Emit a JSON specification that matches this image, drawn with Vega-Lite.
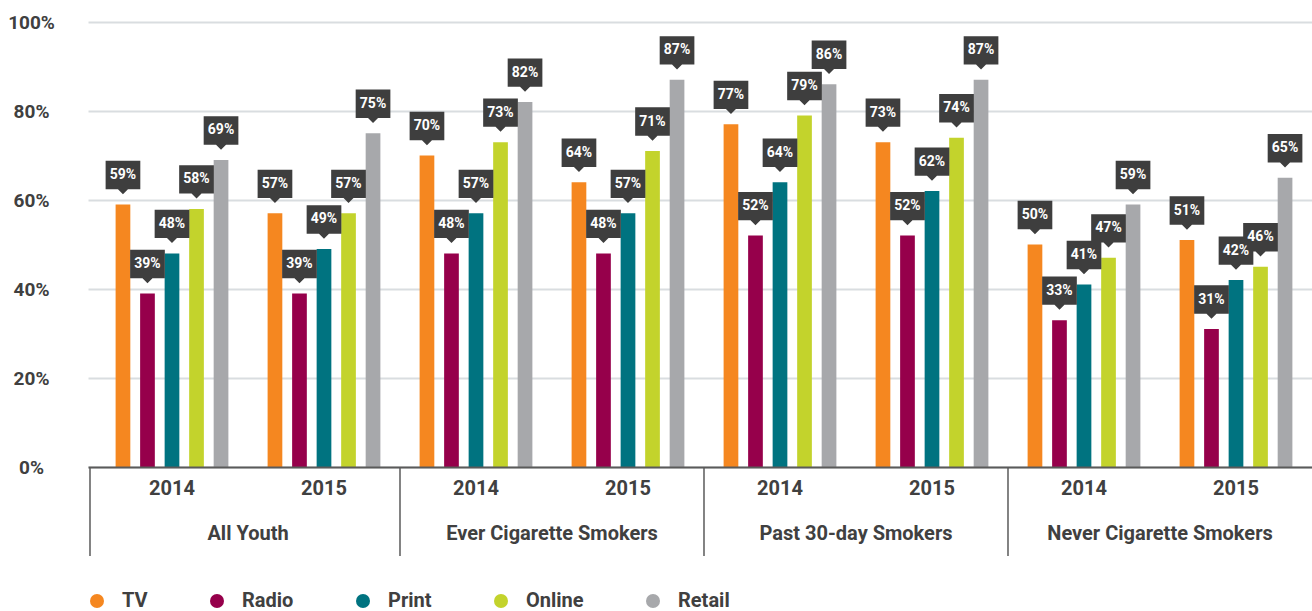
{
  "$schema": "https://vega.github.io/schema/vega-lite/v6.json",
  "autosize": "none",
  "width": 1224,
  "height": 445,
  "padding": {"left": 88, "top": 22, "right": 0, "bottom": 144},
  "background": "white",
  "config": {"view": {"stroke": null}, "font": "Roboto"},
  "datasets": {
    "bars": [
      {"group": "All Youth", "slot": "All Youth 2014", "media": "TV", "value": 59, "label": "59%"},
      {"group": "All Youth", "slot": "All Youth 2014", "media": "Radio", "value": 39, "label": "39%"},
      {"group": "All Youth", "slot": "All Youth 2014", "media": "Print", "value": 48, "label": "48%"},
      {"group": "All Youth", "slot": "All Youth 2014", "media": "Online", "value": 58, "label": "58%"},
      {"group": "All Youth", "slot": "All Youth 2014", "media": "Retail", "value": 69, "label": "69%"},
      {"group": "All Youth", "slot": "All Youth 2015", "media": "TV", "value": 57, "label": "57%"},
      {"group": "All Youth", "slot": "All Youth 2015", "media": "Radio", "value": 39, "label": "39%"},
      {"group": "All Youth", "slot": "All Youth 2015", "media": "Print", "value": 49, "label": "49%"},
      {"group": "All Youth", "slot": "All Youth 2015", "media": "Online", "value": 57, "label": "57%"},
      {"group": "All Youth", "slot": "All Youth 2015", "media": "Retail", "value": 75, "label": "75%"},
      {"group": "Ever Cigarette Smokers", "slot": "Ever Cigarette Smokers 2014", "media": "TV", "value": 70, "label": "70%"},
      {"group": "Ever Cigarette Smokers", "slot": "Ever Cigarette Smokers 2014", "media": "Radio", "value": 48, "label": "48%"},
      {"group": "Ever Cigarette Smokers", "slot": "Ever Cigarette Smokers 2014", "media": "Print", "value": 57, "label": "57%"},
      {"group": "Ever Cigarette Smokers", "slot": "Ever Cigarette Smokers 2014", "media": "Online", "value": 73, "label": "73%"},
      {"group": "Ever Cigarette Smokers", "slot": "Ever Cigarette Smokers 2014", "media": "Retail", "value": 82, "label": "82%"},
      {"group": "Ever Cigarette Smokers", "slot": "Ever Cigarette Smokers 2015", "media": "TV", "value": 64, "label": "64%"},
      {"group": "Ever Cigarette Smokers", "slot": "Ever Cigarette Smokers 2015", "media": "Radio", "value": 48, "label": "48%"},
      {"group": "Ever Cigarette Smokers", "slot": "Ever Cigarette Smokers 2015", "media": "Print", "value": 57, "label": "57%"},
      {"group": "Ever Cigarette Smokers", "slot": "Ever Cigarette Smokers 2015", "media": "Online", "value": 71, "label": "71%"},
      {"group": "Ever Cigarette Smokers", "slot": "Ever Cigarette Smokers 2015", "media": "Retail", "value": 87, "label": "87%"},
      {"group": "Past 30-day Smokers", "slot": "Past 30-day Smokers 2014", "media": "TV", "value": 77, "label": "77%"},
      {"group": "Past 30-day Smokers", "slot": "Past 30-day Smokers 2014", "media": "Radio", "value": 52, "label": "52%"},
      {"group": "Past 30-day Smokers", "slot": "Past 30-day Smokers 2014", "media": "Print", "value": 64, "label": "64%"},
      {"group": "Past 30-day Smokers", "slot": "Past 30-day Smokers 2014", "media": "Online", "value": 79, "label": "79%"},
      {"group": "Past 30-day Smokers", "slot": "Past 30-day Smokers 2014", "media": "Retail", "value": 86, "label": "86%"},
      {"group": "Past 30-day Smokers", "slot": "Past 30-day Smokers 2015", "media": "TV", "value": 73, "label": "73%"},
      {"group": "Past 30-day Smokers", "slot": "Past 30-day Smokers 2015", "media": "Radio", "value": 52, "label": "52%"},
      {"group": "Past 30-day Smokers", "slot": "Past 30-day Smokers 2015", "media": "Print", "value": 62, "label": "62%"},
      {"group": "Past 30-day Smokers", "slot": "Past 30-day Smokers 2015", "media": "Online", "value": 74, "label": "74%"},
      {"group": "Past 30-day Smokers", "slot": "Past 30-day Smokers 2015", "media": "Retail", "value": 87, "label": "87%"},
      {"group": "Never Cigarette  Smokers", "slot": "Never Cigarette  Smokers 2014", "media": "TV", "value": 50, "label": "50%"},
      {"group": "Never Cigarette  Smokers", "slot": "Never Cigarette  Smokers 2014", "media": "Radio", "value": 33, "label": "33%"},
      {"group": "Never Cigarette  Smokers", "slot": "Never Cigarette  Smokers 2014", "media": "Print", "value": 41, "label": "41%"},
      {"group": "Never Cigarette  Smokers", "slot": "Never Cigarette  Smokers 2014", "media": "Online", "value": 47, "label": "47%"},
      {"group": "Never Cigarette  Smokers", "slot": "Never Cigarette  Smokers 2014", "media": "Retail", "value": 59, "label": "59%"},
      {"group": "Never Cigarette  Smokers", "slot": "Never Cigarette  Smokers 2015", "media": "TV", "value": 51, "label": "51%"},
      {"group": "Never Cigarette  Smokers", "slot": "Never Cigarette  Smokers 2015", "media": "Radio", "value": 31, "label": "31%"},
      {"group": "Never Cigarette  Smokers", "slot": "Never Cigarette  Smokers 2015", "media": "Print", "value": 42, "label": "42%"},
      {"group": "Never Cigarette  Smokers", "slot": "Never Cigarette  Smokers 2015", "media": "Online", "value": 45, "label": "46%"},
      {"group": "Never Cigarette  Smokers", "slot": "Never Cigarette  Smokers 2015", "media": "Retail", "value": 65, "label": "65%"}
    ],
    "slots": [
      {"slot": "All Youth 2014", "year": "2014"},
      {"slot": "All Youth 2015", "year": "2015"},
      {"slot": "Ever Cigarette Smokers 2014", "year": "2014"},
      {"slot": "Ever Cigarette Smokers 2015", "year": "2015"},
      {"slot": "Past 30-day Smokers 2014", "year": "2014"},
      {"slot": "Past 30-day Smokers 2015", "year": "2015"},
      {"slot": "Never Cigarette  Smokers 2014", "year": "2014"},
      {"slot": "Never Cigarette  Smokers 2015", "year": "2015"}
    ],
    "groups": [
      {"group": "All Youth", "first": "All Youth 2014", "lead": true},
      {"group": "Ever Cigarette Smokers", "first": "Ever Cigarette Smokers 2014", "lead": false},
      {"group": "Past 30-day Smokers", "first": "Past 30-day Smokers 2014", "lead": false},
      {"group": "Never Cigarette  Smokers", "first": "Never Cigarette  Smokers 2014", "lead": false}
    ]
  },
  "layer": [
    {
      "data": {"name": "bars"},
      "mark": {"type": "bar"},
      "encoding": {
        "x": {
          "field": "slot", "type": "nominal",
          "scale": {
            "domain": ["All Youth 2014", "All Youth 2015", "Ever Cigarette Smokers 2014", "Ever Cigarette Smokers 2015", "Past 30-day Smokers 2014", "Past 30-day Smokers 2015", "Never Cigarette  Smokers 2014", "Never Cigarette  Smokers 2015"],
            "paddingInner": 0, "paddingOuter": 0.0263, "align": 1
          },
          "axis": {"labels": false, "ticks": false, "domain": true, "domainColor": "#5a5a5a", "domainWidth": 2, "grid": false, "title": null, "zindex": 1}
        },
        "xOffset": {
          "field": "media", "type": "nominal",
          "scale": {"domain": ["TV", "Radio", "Print", "Online", "Retail"], "paddingInner": 0.4, "paddingOuter": 0.8}
        },
        "y": {
          "field": "value", "type": "quantitative",
          "scale": {"domain": [0, 100]},
          "axis": {"values": [0, 20, 40, 60, 80, 100], "labelExpr": "datum.value + '%'", "domain": false, "ticks": false, "tickSize": 0, "labelPadding": 57, "labelAlign": "center", "labelFont": "Roboto", "labelFontSize": 19, "labelFontWeight": "bold", "labelColor": "#404040", "grid": true, "gridColor": "#d9dde0", "gridWidth": 2, "title": null}
        },
        "color": {
          "field": "media", "type": "nominal",
          "scale": {"domain": ["TV", "Radio", "Print", "Online", "Retail"], "range": ["#f58720", "#96004b", "#007380", "#c3d32c", "#a7a8ab"]},
          "legend": {"orient": "none", "legendX": -1, "legendY": 569, "direction": "horizontal", "columns": 5, "symbolType": "circle", "symbolSize": 196, "symbolStrokeWidth": 0, "symbolOpacity": 1, "labelFont": "Roboto", "labelFontSize": 20, "labelFontWeight": "bold", "labelColor": "#404040", "labelOffset": 15, "columnPadding": 59, "title": null, "padding": 0}
        }
      }
    },
    {
      "data": {"name": "bars"},
      "mark": {"type": "point", "shape": "M-1,-2.519L1,-2.519L1,-0.882L0.288,-0.882L0,-0.594L-0.288,-0.882L-1,-0.882Z", "filled": true, "color": "#3e3e3e", "opacity": 1, "size": 1204, "strokeWidth": 0},
      "encoding": {
        "x": {"field": "slot", "type": "nominal"},
        "xOffset": {"field": "media", "type": "nominal"},
        "y": {"field": "value", "type": "quantitative"}
      }
    },
    {
      "data": {"name": "bars"},
      "mark": {"type": "text", "dy": -29.5, "color": "white", "font": "Roboto", "fontWeight": "bold", "fontSize": 14, "baseline": "middle", "align": "center"},
      "encoding": {
        "x": {"field": "slot", "type": "nominal"},
        "xOffset": {"field": "media", "type": "nominal"},
        "y": {"field": "value", "type": "quantitative"},
        "text": {"field": "label"}
      }
    },
    {
      "data": {"name": "slots"},
      "mark": {"type": "text", "font": "Roboto", "fontWeight": "bold", "fontSize": 20, "color": "#404040", "baseline": "middle", "align": "center"},
      "encoding": {
        "x": {"field": "slot", "type": "nominal"},
        "y": {"datum": -5, "type": "quantitative"},
        "text": {"field": "year"}
      }
    },
    {
      "data": {"name": "groups"},
      "mark": {"type": "text", "font": "Roboto", "fontWeight": "bold", "fontSize": 20, "color": "#404040", "baseline": "middle", "align": "center"},
      "encoding": {
        "x": {"field": "first", "type": "nominal", "bandPosition": 1},
        "y": {"datum": -15.1, "type": "quantitative"},
        "text": {"field": "group"}
      }
    },
    {
      "data": {"name": "groups"},
      "transform": [{"filter": "!datum.lead"}],
      "mark": {"type": "rule", "color": "#5a5a5a", "strokeWidth": 1.5},
      "encoding": {
        "x": {"field": "first", "type": "nominal", "bandPosition": 0},
        "y": {"datum": 0, "type": "quantitative"},
        "y2": {"datum": -20}
      }
    },
    {
      "data": {"name": "groups"},
      "transform": [{"filter": "datum.lead"}],
      "mark": {"type": "rule", "color": "#5a5a5a", "strokeWidth": 1.5, "xOffset": -6},
      "encoding": {
        "x": {"field": "first", "type": "nominal", "bandPosition": 0},
        "y": {"datum": 0, "type": "quantitative"},
        "y2": {"datum": -20}
      }
    }
  ]
}
